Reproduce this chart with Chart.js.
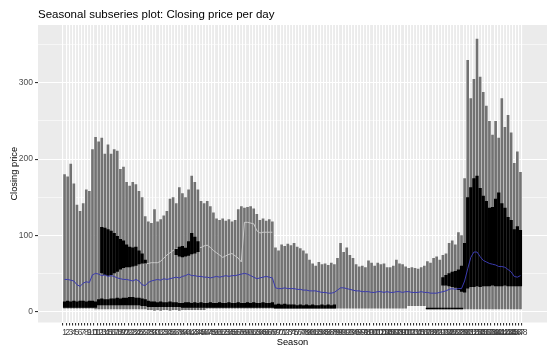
<!DOCTYPE html>
<html>
<head>
<meta charset="utf-8">
<style>
  html, body { margin: 0; padding: 0; background: #ffffff; overflow: hidden; }
  #wrap { position: relative; width: 547px; height: 347px; }
</style>
<script src="https://cdn.jsdelivr.net/npm/chart.js@4.4.1/dist/chart.umd.min.js"></script>
</head>
<body>
<div id="wrap"><canvas id="chart" width="547" height="347"></canvas></div>
<script>
// Season slots along the x axis (labels 1..148)
const seasons = Array.from({ length: 148 }, (_, i) => String(i + 1));

// Highest and lowest closing price reached in each season slot
const closeMax = [
  180, 177, 194, 168, 140, 132, 142, 160, 158, 213,
  229, 223, 228, 207, 219, 207, 213, 211, 187, 190,
  170, 165, 170, 167, 158, 150, 125, 118, 116, 134,
  118, 121, 126, 132, 148, 150, 142, 163, 155, 150,
  160, 178, 170, 160, 145, 142, 145, 138, 130, 122,
  120, 122, 119, 121, 118, 120, 134, 138, 136, 137,
  138, 135, 128, 120, 122, 119, 121, 118, 84, 80,
  88, 86, 89, 87, 90, 85, 83, 80, 76, 68,
  63, 60, 65, 62, 63, 61, 64, 62, 70, 90,
  78, 84, 74, 70, 62, 59, 60, 58, 67, 64,
  60, 64, 62, 63, 58, 58, 60, 68, 63, 62,
  59, 57, 58, 57, 56, 58, 60, 66, 64, 70,
  72, 68, 74, 76, 90, 93, 88, 104, 100, 175,
  330, 280, 305, 358, 308, 288, 270, 250, 232, 250,
  228, 280, 242, 258, 235, 195, 210, 183
];
const closeMin = [
  4, 4, 4, 4, 4, 4, 4, 4, 4, 4,
  3, 3, 3, 3, 3, 3, 3, 3, 3, 3,
  3, 3, 3, 3, 3, 3, 3, 2, 2, 1,
  2, 1, 2, 2, 1, 2, 2, 1, 2, 2,
  2, 2, 2, 2, 2, 2, 4, 4, 4, 4,
  4, 4, 4, 4, 4, 4, 4, 4, 4, 4,
  4, 4, 4, 4, 4, 4, 4, 4, 4, 4,
  4, 4, 4, 4, 4, 4, 4, 4, 4, 4,
  4, 4, 4, 4, 4, 4, 4, 4, 4, 4,
  4, 4, 4, 4, 4, 4, 4, 4, 4, 4,
  4, 4, 4, 4, 4, 4, 4, 4, 4, 4,
  4, 7, 7, 7, 7, 7, 7, 3, 3, 3,
  3, 3, 3, 3, 3, 3, 3, 3, 3, 3,
  3, 3, 3, 3, 3, 3, 3, 3, 3, 3,
  3, 3, 3, 3, 3, 3, 3, 3
];

// Dense overlap of low-priced years near the floor
const floorLow = [
  5, 5, 5, 5, 5, 5, 5, 5, 5, 5,
  5, 8, 8, 8, 8, 8, 8, 8, 8, 8,
  8, 8, 8, 8, 8, 7, 7, 6, 6, 6,
  6, 6, 6, 6, 6, 6, 6, 6, 5, 5,
  5, 5, 5, 5, 5, 5, 5, 5, 5, 5,
  5, 5, 5, 5, 5, 5, 5, 5, 5, 5,
  5, 5, 5, 5, 5, 5, 5, 5, 4, 4,
  4, 4, 4, 4, 4, 4, 4, 4, 4, 4,
  4, 4, 4, 4, 4, 4, 4, 4, null, null,
  null, null, null, null, null, null, null, null, null, null,
  null, null, null, null, null, null, null, null, null, null,
  null, null, null, null, null, null, null, 3, 3, 3,
  3, 3, 3, 3, 3, 3, 3, 3, 3, null,
  null, null, null, null, null, null, null, null, null, null,
  null, null, null, null, null, null, null, null
];
const floorHigh = [
  13, 14, 13, 14, 13, 14, 14, 13, 14, 14,
  13, 16, 17, 16, 16, 17, 17, 18, 17, 18,
  18, 19, 19, 18, 18, 17, 16, 14, 13, 13,
  12, 13, 12, 12, 13, 12, 12, 11, 11, 12,
  12, 11, 12, 11, 12, 11, 11, 12, 11, 11,
  12, 11, 11, 12, 11, 11, 12, 11, 11, 12,
  11, 12, 11, 11, 12, 11, 11, 12, 9, 10,
  9, 10, 9, 9, 9, 8, 9, 8, 9, 8,
  9, 8, 8, 9, 8, 9, 8, 9, null, null,
  null, null, null, null, null, null, null, null, null, null,
  null, null, null, null, null, null, null, null, null, null,
  null, null, null, null, null, null, null, 5, 5, 5,
  5, 5, 5, 5, 5, 5, 5, 5, 5, null,
  null, null, null, null, null, null, null, null, null, null,
  null, null, null, null, null, null, null, null
];

// Dense overlap of mid/high-priced years
const clusterLow = [
  null, null, null, null, null, null, null, null, null, null,
  null, null, 50, 48, 47, 48, 50, 52, 55, 57,
  58, 58, 59, 60, 62, 63, 63, null, null, null,
  null, null, null, null, null, null, 74, 72, 71, 72,
  73, 75, 76, 78, null, null, null, null, null, null,
  null, null, null, null, null, null, null, null, null, null,
  null, null, null, null, null, null, null, null, null, null,
  null, null, null, null, null, null, null, null, null, null,
  null, null, null, null, null, null, null, null, null, null,
  null, null, null, null, null, null, null, null, null, null,
  null, null, null, null, null, null, null, null, null, null,
  null, null, null, null, null, null, null, null, null, null,
  null, null, 34, 34, 33, 32, 31, 28, 26, 25,
  30, 32, 32, 33, 32, 33, 33, 33, 34, 33,
  33, 33, 34, 33, 33, 33, 33, 33
];
const clusterHigh = [
  null, null, null, null, null, null, null, null, null, null,
  null, null, 111, 110, 108, 106, 103, 99, 95, 93,
  88, 85, 84, 85, 80, 76, 68, null, null, null,
  null, null, null, null, null, null, 82, 85, 86, 84,
  92, 103, 98, 92, null, null, null, null, null, null,
  null, null, null, null, null, null, null, null, null, null,
  null, null, null, null, null, null, null, null, null, null,
  null, null, null, null, null, null, null, null, null, null,
  null, null, null, null, null, null, null, null, null, null,
  null, null, null, null, null, null, null, null, null, null,
  null, null, null, null, null, null, null, null, null, null,
  null, null, null, null, null, null, null, null, null, null,
  null, null, 45, 48, 50, 52, 53, 55, 60, 90,
  150, 163, 175, 178, 162, 152, 145, 136, 137, 148,
  156, 142, 136, 124, 120, 108, 112, 107
];

// A single year's trace that stands out in light grey
const singleYear = [
  null, null, null, null, null, null, null, null, null, null,
  null, null, null, null, null, null, null, null, null, null,
  null, null, null, null, null, 66, 63, 63, 64, 64,
  64, 66, 70, 74, 77, 80, 82, 83, 84, 84,
  84, 85, 85, 84, 84, 86, 87, 84, 80, 77,
  74, 71, 73, 75, 76, 73, 70, 65, 117, 117,
  116, 115, 106, 103, 104, 104, 104, 104, null, null,
  null, null, null, null, null, null, null, null, null, null,
  null, null, null, null, null, null, null, null, null, null,
  null, null, null, null, null, null, null, null, null, null,
  null, null, null, null, null, null, null, null, null, null,
  null, null, null, null, null, null, null, null, null, null,
  null, null, null, null, null, null, null, null, null, null,
  null, null, null, null, null, null, null, null, null, null,
  null, null, null, null, null, null, null, null
];

// Mean closing price of each season slot
const seasonMean = [
  42, 42, 41, 40, 35, 33, 37, 39, 38, 48,
  50, 49, 47, 48, 46, 47, 46, 44, 43, 42,
  42, 41, 40, 42, 40, 35, 34, 38, 40, 41,
  42, 41, 43, 42, 43, 44, 45, 44, 46, 47,
  49, 47, 47, 46, 46, 45, 45, 44, 45, 46,
  45, 46, 47, 46, 47, 47, 48, 49, 50, 49,
  47, 45, 43, 44, 45, 46, 45, 44, 31, 30,
  30, 31, 30, 30, 30, 29, 29, 28, 28, 27,
  27, 27, 26, 25, 25, 24, 24, 25, 28, 31,
  31, 30, 29, 28, 27, 27, 26, 26, 26, 25,
  25, 26, 26, 25, 26, 25, 25, 26, 26, 25,
  26, 26, 25, 25, 25, 26, 25, 25, 24, 24,
  24, 25, 26, 27, 29, 30, 29, 30, 30, 40,
  56, 71, 78, 78, 72, 67, 65, 63, 62, 61,
  59, 59, 58, 55, 52, 46, 45, 47
];

const yMajor = [0, 100, 200, 300];
const yGrid = [0, 50, 100, 150, 200, 250, 300, 350];

const FONT = "'Liberation Sans', Arial, sans-serif";

const rangePoints = (lo, hi) => seasons
  .map((_, i) => i)
  .filter(i => lo[i] !== null && hi[i] !== null)
  .map(i => ({ x: i, y: [lo[i], hi[i]] }));
const linePoints = (vals) => seasons.map((_, i) => ({ x: i, y: vals[i] }));

// Grey panel background behind the grid
const panelBackground = {
  id: 'panelBackground',
  beforeDraw(chart) {
    const { ctx, chartArea: a } = chart;
    ctx.save();
    ctx.fillStyle = '#EBEBEB';
    ctx.fillRect(a.left, a.top, a.right - a.left, a.bottom - a.top);
    ctx.restore();
  }
};

new Chart(document.getElementById('chart'), {
  type: 'bar',
  data: {
    datasets: [
      {
        label: 'mean',
        type: 'line',
        data: linePoints(seasonMean),
        borderColor: '#3A3AAE',
        borderWidth: 1,
        pointRadius: 0,
        tension: 0,
        order: 1
      },
      {
        label: 'cluster',
        data: rangePoints(clusterLow, clusterHigh),
        backgroundColor: '#000000',
        borderWidth: 0,
        grouped: false,
        categoryPercentage: 1,
        barPercentage: 1.05,
        order: 2
      },
      {
        label: 'floor',
        data: rangePoints(floorLow, floorHigh),
        backgroundColor: '#000000',
        borderWidth: 0,
        grouped: false,
        categoryPercentage: 1,
        barPercentage: 1.05,
        order: 2
      },
      {
        label: 'single year',
        type: 'line',
        data: linePoints(singleYear),
        borderColor: '#C9C9C9',
        borderWidth: 1,
        pointRadius: 0,
        tension: 0,
        spanGaps: false,
        order: 3
      },
      {
        label: 'range',
        data: rangePoints(closeMin, closeMax),
        backgroundColor: '#727272',
        borderWidth: 0,
        grouped: false,
        categoryPercentage: 1,
        barPercentage: 0.85,
        order: 4
      }
    ]
  },
  options: {
    responsive: false,
    devicePixelRatio: 1,
    animation: false,
    layout: { padding: { left: 0, right: -12, top: 0, bottom: 0 } },
    plugins: {
      legend: { display: false },
      tooltip: { enabled: false },
      title: {
        display: true,
        text: 'Seasonal subseries plot: Closing price per day',
        align: 'start',
        fullSize: false,
        color: '#000000',
        font: { family: FONT, size: 11.5, weight: 'normal' },
        padding: { top: 8, bottom: 3.2 }
      }
    },
    scales: {
      x: {
        type: 'linear',
        min: -8.009,
        max: 155.01,
        afterBuildTicks(scale) {
          scale.ticks = seasons.map((_, i) => ({ value: i }));
        },
        afterFit(scale) { scale.height = 24.5; },
        ticks: {
          autoSkip: false,
          maxRotation: 0,
          minRotation: 0,
          padding: 2,
          color: '#3F3F3F',
          font: { family: FONT, size: 8.5 },
          callback: (v) => seasons[v] ?? ''
        },
        grid: {
          color: '#FFFFFF',
          lineWidth: 1.1,
          tickColor: '#333333',
          tickLength: 3,
          drawTicks: true
        },
        border: { display: false },
        title: {
          display: true,
          text: 'Season',
          color: '#000000',
          font: { family: FONT, size: 9.3, lineHeight: 0.9 },
          padding: { top: 0, bottom: 0 }
        }
      },
      y: {
        type: 'linear',
        min: -14.5,
        max: 376,
        afterBuildTicks(scale) {
          scale.ticks = yGrid.map(v => ({ value: v }));
        },
        afterFit(scale) { scale.width = 38; },
        ticks: {
          padding: 2,
          color: '#4D4D4D',
          font: { family: FONT, size: 8.5 },
          callback: (v) => yMajor.includes(v) ? String(v) : ''
        },
        grid: {
          color: '#FFFFFF',
          lineWidth: (c) => (c.tick && yMajor.includes(c.tick.value)) ? 1.1 : 0.55,
          tickColor: (c) => (c.tick && yMajor.includes(c.tick.value)) ? '#333333' : 'rgba(0,0,0,0)',
          tickLength: 3
        },
        border: { display: false },
        title: {
          display: true,
          text: 'Closing price',
          color: '#000000',
          font: { family: FONT, size: 9.3 },
          padding: { top: 9, bottom: 0 }
        }
      }
    }
  },
  plugins: [panelBackground]
});
</script>
</body>
</html>
